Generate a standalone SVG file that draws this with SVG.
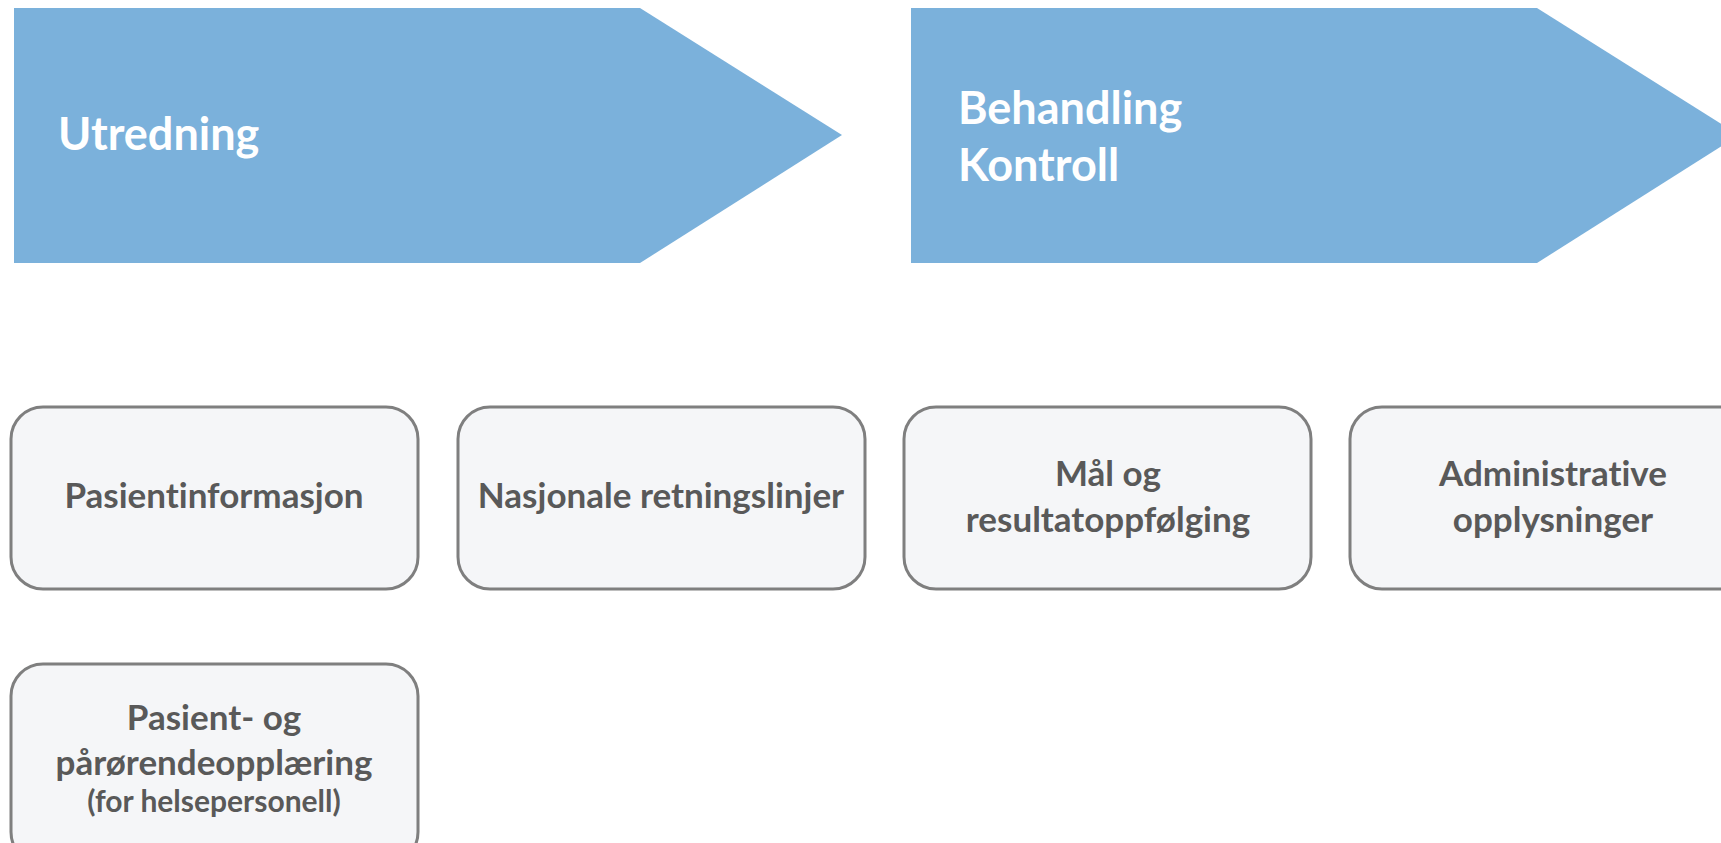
<svg xmlns="http://www.w3.org/2000/svg" width="1721" height="843" viewBox="0 0 1721 843">
<style>
.hdr{fill:#7bb1db}
.hdrt{font-family:Lato,"Open Sans",sans-serif;font-weight:700;font-size:45px;fill:#ffffff}
.box{fill:#f5f6f8;stroke:#7f7f7f;stroke-width:3}
.bt{font-family:Lato,"Open Sans",sans-serif;font-weight:700;font-size:35px;fill:#595959;text-anchor:middle;font-variant-ligatures:none}
.bs{font-size:30px}
</style>
<rect width="1721" height="843" fill="#ffffff"/>
<g id="utredning">
<polygon class="hdr" points="14,8 640,8 842,135 640,263 14,263"/>
<text class="hdrt" x="58" y="150">Utredning</text>
</g>
<g id="behandling">
<polygon class="hdr" points="911,8 1537,8 1739,135 1537,263 911,263"/>
<text class="hdrt" x="958" y="124">Behandling</text>
<text class="hdrt" x="958" y="181">Kontroll</text>
</g>
<g id="pasientinformasjon">
<rect class="box" x="11" y="407" width="407" height="182" rx="32"/>
<text class="bt" x="214" y="508">Pasientinformasjon</text>
</g>
<g id="nasjonale">
<rect class="box" x="458" y="407" width="407" height="182" rx="32"/>
<text class="bt" x="661" y="508">Nasjonale retningslinjer</text>
</g>
<g id="maal">
<rect class="box" x="904" y="407" width="407" height="182" rx="32"/>
<text class="bt" x="1108" y="486">Mål og</text>
<text class="bt" x="1108" y="532">resultatoppfølging</text>
</g>
<g id="administrative">
<rect class="box" x="1350" y="407" width="407" height="182" rx="32"/>
<text class="bt" x="1553" y="486">Administrative</text>
<text class="bt" x="1553" y="532">opplysninger</text>
</g>
<g id="opplaering">
<rect class="box" x="11" y="664" width="407" height="200" rx="32"/>
<text class="bt" x="214" y="730">Pasient- og</text>
<text class="bt" x="214" y="775">pårørendeopplæring</text>
<text class="bt bs" x="214" y="812">(for helsepersonell)</text>
</g>
<g id="connectors"/>
</svg>
